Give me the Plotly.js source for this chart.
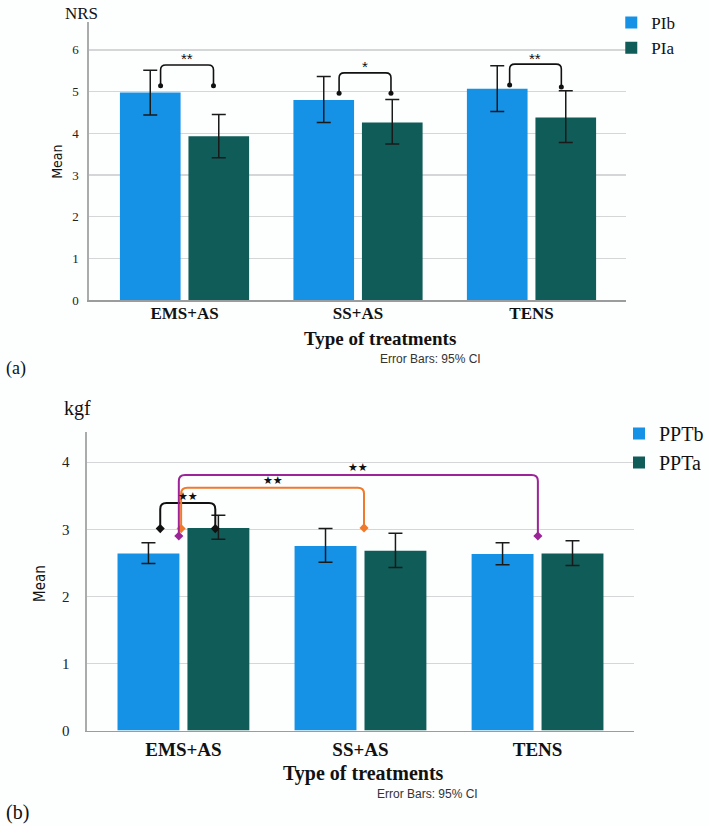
<!DOCTYPE html>
<html>
<head>
<meta charset="utf-8">
<script src="https://cdn.plot.ly/plotly-3.0.1.min.js"></script>
<style>html,body{margin:0;padding:0;background:#fdfefe;}</style>
</head>
<body>
<div id="chart" style="width:709px;height:826px;"></div>
<script>
// ---------- DATA ----------
const categories = ['EMS+AS', 'SS+AS', 'TENS'];

// Panel (a): NRS pain intensity
const piB = [4.98, 4.80, 5.07];
const piB_hi = [5.51, 5.36, 5.62];
const piB_lo = [4.44, 4.26, 4.52];
const piA = [3.93, 4.26, 4.38];
const piA_hi = [4.45, 4.81, 5.02];
const piA_lo = [3.41, 3.74, 3.78];

// Panel (b): PPT kgf
const pptB = [2.64, 2.75, 2.63];
const pptB_hi = [2.80, 3.01, 2.80];
const pptB_lo = [2.49, 2.51, 2.47];
const pptA = [3.02, 2.68, 2.64];
const pptA_hi = [3.21, 2.94, 2.83];
const pptA_lo = [2.85, 2.43, 2.46];

// significance brackets (category-index units / value units)
const brA_x0 = [-0.138, 0.891, 1.874];
const brA_x1 = [0.167, 1.190, 2.172];
const brA_top = [5.64, 5.45, 5.66];
const brA_tip0 = [5.14, 4.96, 5.16];
const brA_tip1 = [5.14, 4.96, 5.11];
const brA_lab = ['**', '*', '**'];

const brB_x0 = [-0.131, -0.013, -0.026];
const brB_x1 = [0.180, 1.020, 2.002];
const brB_top = [3.39, 3.62, 3.81];
const brB_tip0 = [3.01, 3.01, 2.90];
const brB_tip1 = [3.01, 3.02, 2.90];
const brB_lab = ['\u2605\u2605', '\u2605\u2605', '\u2605\u2605'];
const brB_col = ['#111111', '#f07a2c', '#9c2398'];

// ---------- STYLE ----------
const W = 709, H = 826;
const BLUE = '#1591e6', TEAL = '#0f5c58';
const SERIF = 'Liberation Serif, Times New Roman, serif';
const SANS = 'Liberation Sans, Arial, sans-serif';
const NARROW = 'Liberation Sans Narrow, DejaVu Sans Condensed, Arial, sans-serif';
const px = x => x / W;
const py = y => 1 - y / H;
const xi = categories.map((c, i) => i);
const up = (hi, v) => hi.map((h, i) => +(h - v[i]).toFixed(3));
const dn = (lo, v) => lo.map((l, i) => +(v[i] - l).toFixed(3));

function ebar(hi, lo, v) {
  return {type: 'data', symmetric: false, array: up(hi, v), arrayminus: dn(lo, v),
          color: '#1a1a1a', thickness: 1.5, width: 7};
}

const traces = [
  {type: 'bar', name: 'PIb', x: xi, y: piB, marker: {color: BLUE}, error_y: ebar(piB_hi, piB_lo, piB),
   xaxis: 'x', yaxis: 'y', legend: 'legend', hoverinfo: 'skip'},
  {type: 'bar', name: 'PIa', x: xi, y: piA, marker: {color: TEAL}, error_y: ebar(piA_hi, piA_lo, piA),
   xaxis: 'x', yaxis: 'y', legend: 'legend', hoverinfo: 'skip'},
  {type: 'bar', name: 'PPTb', x: xi, y: pptB, marker: {color: BLUE}, error_y: ebar(pptB_hi, pptB_lo, pptB),
   xaxis: 'x2', yaxis: 'y2', legend: 'legend2', hoverinfo: 'skip'},
  {type: 'bar', name: 'PPTa', x: xi, y: pptA, marker: {color: TEAL}, error_y: ebar(pptA_hi, pptA_lo, pptA),
   xaxis: 'x2', yaxis: 'y2', legend: 'legend2', hoverinfo: 'skip'}
];

const shapes = [];
const annotations = [];

function bracketPath(x0, x1, top, t0, t1, rx, ry) {
  return 'M' + x0 + ',' + t0 + ' L' + x0 + ',' + (top - ry) +
    ' Q' + x0 + ',' + top + ' ' + (x0 + rx) + ',' + top +
    ' L' + (x1 - rx) + ',' + top +
    ' Q' + x1 + ',' + top + ' ' + x1 + ',' + (top - ry) +
    ' L' + x1 + ',' + t1;
}

// panel (a) brackets
brA_x0.forEach((x0, i) => {
  shapes.push({type: 'path', xref: 'x', yref: 'y',
    path: bracketPath(x0, brA_x1[i], brA_top[i], brA_tip0[i], brA_tip1[i], 0.03, 0.12),
    line: {color: '#111', width: 1.6}});
  annotations.push({xref: 'x', yref: 'y', x: (x0 + brA_x1[i]) / 2, y: brA_top[i], text: brA_lab[i],
    showarrow: false, yanchor: 'middle', yshift: 6, font: {family: SANS, size: 15, color: '#111'}});
});
traces.push({type: 'scatter', mode: 'markers', xaxis: 'x', yaxis: 'y', showlegend: false, hoverinfo: 'skip',
  x: brA_x0.concat(brA_x1), y: brA_tip0.concat(brA_tip1),
  marker: {symbol: 'circle', size: 5, color: '#111'}});

// panel (b) brackets
brB_x0.forEach((x0, i) => {
  shapes.push({type: 'path', xref: 'x2', yref: 'y2',
    path: bracketPath(x0, brB_x1[i], brB_top[i], brB_tip0[i], brB_tip1[i], 0.035, 0.09),
    line: {color: brB_col[i], width: 2}});
  annotations.push({xref: 'x2', yref: 'y2', x: (x0 + brB_x1[i]) / 2, y: brB_top[i], text: brB_lab[i],
    showarrow: false, yanchor: 'middle', yshift: 7, font: {family: 'DejaVu Sans, sans-serif', size: 11, color: '#111'}});
  traces.push({type: 'scatter', mode: 'markers', xaxis: 'x2', yaxis: 'y2', showlegend: false, hoverinfo: 'skip',
    x: [x0, brB_x1[i]], y: [brB_tip0[i], brB_tip1[i]],
    marker: {symbol: 'diamond', size: 7, color: brB_col[i]}});
});

// text annotations
function txt(x, y, text, font, opts) {
  annotations.push(Object.assign({xref: 'paper', yref: 'paper', x: px(x), y: py(y), text: text,
    showarrow: false, xanchor: 'center', yanchor: 'middle', font: font}, opts || {}));
}
txt(63, 13, 'NRS', {family: SERIF, size: 17, color: '#111'}, {xanchor: 'left'});
txt(57, 162, 'Mean', {family: NARROW, size: 14, color: '#111'}, {textangle: -90});
txt(381, 338, 'Type of treatments', {family: SERIF, size: 19, color: '#111', weight: 'bold'});
txt(379, 359, 'Error Bars: 95% CI', {family: SANS, size: 12, color: '#333'}, {xanchor: 'left'});
txt(4, 368, '(a)', {family: SERIF, size: 18, color: '#111'}, {xanchor: 'left'});

txt(62, 408, 'kgf', {family: SERIF, size: 20, color: '#111'}, {xanchor: 'left'});
txt(40, 583, 'Mean', {family: NARROW, size: 15, color: '#111'}, {textangle: -90});
txt(365, 773, 'Type of treatments', {family: SERIF, size: 20, color: '#111', weight: 'bold'});
txt(376, 794, 'Error Bars: 95% CI', {family: SANS, size: 12, color: '#333'}, {xanchor: 'left'});
txt(4, 812, '(b)', {family: SERIF, size: 20, color: '#111'}, {xanchor: 'left'});

const yCommon = {showgrid: true, gridcolor: '#d4d6d8', gridwidth: 1.2, zeroline: false,
  showline: true, linecolor: '#a9abad', linewidth: 1.3, ticks: '', dtick: 1, fixedrange: true};
const xCommon = {showgrid: false, zeroline: false, showline: true, linecolor: '#9a9c9e', linewidth: 1.6,
  ticks: '', tickvals: xi, ticktext: categories, fixedrange: true};

const layout = {
  width: W, height: H, autosize: false,
  margin: {l: 0, r: 0, t: 0, b: 0},
  paper_bgcolor: '#fdfefe', plot_bgcolor: '#fdfefe',
  barmode: 'group', bargap: 0.21, bargroupgap: 0.115,
  xaxis: Object.assign({}, xCommon, {domain: [px(89), px(628)], range: [-0.552, 2.546], anchor: 'y',
    tickfont: {family: SERIF, size: 17, color: '#111', weight: 'bold'}, ticklabelstandoff: -3}),
  yaxis: Object.assign({}, yCommon, {domain: [py(300), py(22)], range: [0, 6.67], anchor: 'x',
    tickfont: {family: SERIF, size: 13, color: '#222'}, ticklabelstandoff: 6}),
  xaxis2: Object.assign({}, xCommon, {domain: [px(87), px(636)], range: [-0.546, 2.546], anchor: 'y2',
    tickfont: {family: SERIF, size: 19, color: '#111', weight: 'bold'}, ticklabelstandoff: 1}),
  yaxis2: Object.assign({}, yCommon, {domain: [py(730.5), py(432)], range: [0, 4.45], anchor: 'x2',
    tickfont: {family: SERIF, size: 15, color: '#222'}, ticklabelstandoff: 13}),
  legend: {x: px(613), y: py(5), xanchor: 'left', yanchor: 'top', bgcolor: 'rgba(0,0,0,0)',
    font: {family: SERIF, size: 17, color: '#111'}, tracegroupgap: 0, itemclick: false},
  legend2: {x: px(621), y: py(414), xanchor: 'left', yanchor: 'top', bgcolor: 'rgba(0,0,0,0)',
    font: {family: SERIF, size: 20, color: '#111'}, tracegroupgap: 0, itemclick: false},
  shapes: shapes,
  annotations: annotations,
  showlegend: true
};

Plotly.newPlot('chart', traces, layout, {staticPlot: true, displayModeBar: false});
</script>
</body>
</html>
